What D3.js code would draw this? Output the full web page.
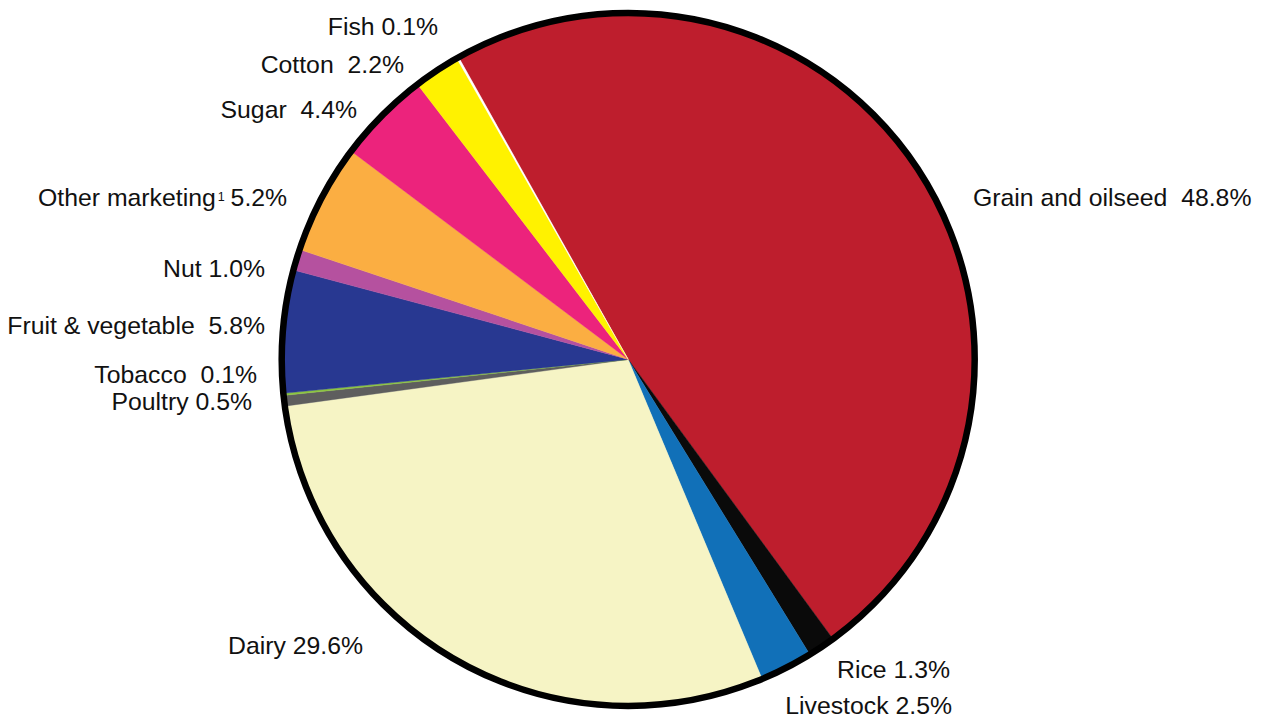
<!DOCTYPE html>
<html>
<head>
<meta charset="utf-8">
<script src="https://cdn.jsdelivr.net/npm/d3@7"></script>
<style>
  html, body { margin: 0; padding: 0; background: #ffffff; }
  svg { display: block; }
  text { font-family: "Liberation Sans", Arial, Helvetica, sans-serif; fill: #111111; white-space: pre; }
</style>
</head>
<body>
<svg id="chart" width="1263" height="719"></svg>
<script>
// Share of total, by commodity group (percent)
const categories = ["Grain and oilseed", "Rice", "Livestock", "Dairy", "Poultry", "Tobacco",
                    "Fruit & vegetable", "Nut", "Other marketing", "Sugar", "Cotton", "Fish"];
const shares = [48.8, 1.3, 2.5, 29.6, 0.5, 0.1, 5.8, 1.0, 5.2, 4.4, 2.2, 0.1];
const footnotes = ["", "", "", "", "", "", "", "", "1", "", "", ""];
// spacing between name and value in each label
const gaps = ["  ", " ", " ", " ", " ", "  ", "  ", " ", " ", "  ", "  ", " "];

const sliceColors = ["#be1e2d", "#0a0a0a", "#1170b8", "#f6f4c5", "#5e5e5e", "#8dc63f",
                     "#283891", "#b5519f", "#fbae42", "#ec237c", "#fff200", "#ffffff"];

// label placement: [x, baseline y, anchor]
const labelPlacement = [
  [973, 206, "start"],
  [950, 677.5, "end"],
  [952, 713.5, "end"],
  [228, 653.5, "start"],
  [252, 409.5, "end"],
  [257, 382.5, "end"],
  [265, 333.5, "end"],
  [265, 276.5, "end"],
  [38, 205.5, "start"],
  [357, 117.5, "end"],
  [404, 72.5, "end"],
  [438, 35, "end"]
];

const cx = 628.2, cy = 359.4, radius = 346.5;
const svg = d3.select("#chart");

const pie = d3.pie()
  .sort(null)
  .value(d => d.value)
  .startAngle(-29.3 * Math.PI / 180)
  .endAngle((360 - 29.3) * Math.PI / 180);

const rows = categories.map((c, i) => ({ name: c, value: shares[i], color: sliceColors[i], i }));
const arcs = pie(rows);

const arc = d3.arc().innerRadius(0).outerRadius(radius);

const g = svg.append("g").attr("transform", `translate(${cx},${cy})`);

g.selectAll("path.slice")
  .data(arcs)
  .join("path")
  .attr("class", "slice")
  .attr("d", arc)
  .attr("fill", d => d.data.color)
  .attr("stroke", d => d.data.color)
  .attr("stroke-width", 0.4);

// heavy outline around the whole pie
g.append("circle")
  .attr("r", radius)
  .attr("fill", "none")
  .attr("stroke", "#000000")
  .attr("stroke-width", 6.5);

// labels
const fmt = d3.format(".1f");
const labels = svg.selectAll("text.label")
  .data(rows)
  .join("text")
  .attr("class", "label")
  .attr("x", d => labelPlacement[d.i][0])
  .attr("y", d => labelPlacement[d.i][1])
  .attr("text-anchor", d => labelPlacement[d.i][2])
  .attr("font-size", 24.8);

labels.each(function (d) {
  const t = d3.select(this);
  const note = footnotes[d.i];
  if (note) {
    t.append("tspan").text(d.name);
    t.append("tspan").attr("font-size", 12.5).attr("dx", 2).attr("dy", -5).text(note);
    t.append("tspan").attr("font-size", 24.8).attr("dx", -1).attr("dy", 5)
      .text(gaps[d.i] + fmt(d.value) + "%");
  } else {
    t.text(d.name + gaps[d.i] + fmt(d.value) + "%");
  }
});
</script>
</body>
</html>
